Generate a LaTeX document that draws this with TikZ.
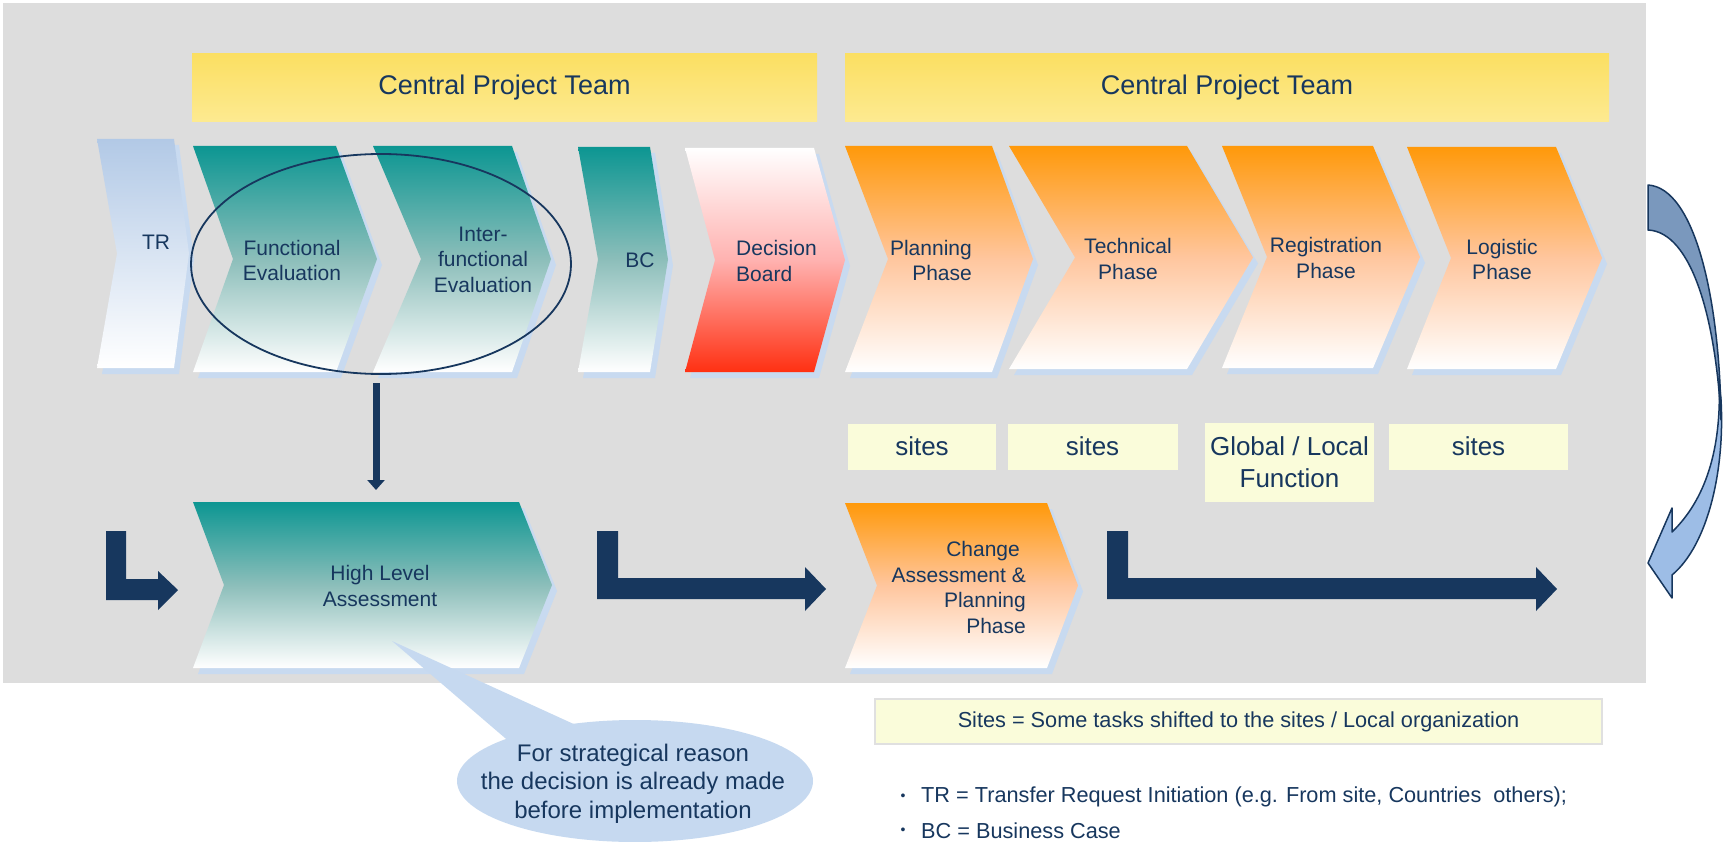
\documentclass[tikz,border=0pt]{standalone}
\usepackage{fontspec}
\setmainfont{Liberation Sans}
\usetikzlibrary{arrows.meta,shapes.geometric}
\definecolor{navy}{RGB}{23,55,94}
\definecolor{bgc}{RGB}{221,221,221}
\definecolor{shad}{RGB}{200,218,240}
\definecolor{tealc}{RGB}{12,150,146}
\definecolor{tealm}{RGB}{140,190,186}
\definecolor{orng}{RGB}{255,153,10}
\definecolor{peach}{RGB}{255,198,158}
\definecolor{redc}{RGB}{255,48,18}
\definecolor{pinkc}{RGB}{255,178,176}
\definecolor{trblue}{RGB}{178,201,230}
\definecolor{ylwtop}{RGB}{251,223,98}
\definecolor{ylwbot}{RGB}{253,234,145}
\definecolor{paley}{RGB}{250,252,218}
\definecolor{calloutc}{RGB}{198,217,240}
\definecolor{arrdark}{RGB}{122,152,189}
\definecolor{arrlight}{RGB}{157,189,230}
\newcommand{\chevshape}[7]{%
  \fill[shad,shift={(5,6)}] (#2,#6) -- (#3,#6) -- (#4,{(#6+#7)/2}) -- (#3,#7) -- (#2,#7) -- (#5,{(#6+#7)/2}) -- cycle;
  \path[#1] (#2,#6) -- (#3,#6) -- (#4,{(#6+#7)/2}) -- (#3,#7) -- (#2,#7) -- (#5,{(#6+#7)/2}) -- cycle;
}
\tikzset{
  trfill/.style={top color=trblue,bottom color=white},
  tealfill/.style={top color=tealc,bottom color=white,middle color=tealm},
  orngfill/.style={top color=orng,bottom color=white,middle color=peach},
  redfill/.style={top color=white,bottom color=redc,middle color=pinkc},
  lbl/.style={text=navy,font=\fontsize{21}{25.5}\selectfont,align=center,inner sep=0pt},
  hdr/.style={top color=ylwtop,bottom color=ylwbot,text=navy,font=\fontsize{27}{32}\selectfont,inner sep=0pt},
  sitebox/.style={fill=paley,text=navy,font=\fontsize{26}{32}\selectfont,align=center,inner sep=0pt},
  larrow/.style={fill=navy},
  smalltxt/.style={text=navy,font=\fontsize{21.7}{26}\selectfont,inner sep=0pt},
}
\begin{document}
\begin{tikzpicture}[x=1pt,y=-1pt]
\useasboundingbox (0,0) rectangle (1723,842);
\fill[white] (0,0) rectangle (1723,842);
\fill[bgc] (3,3) rectangle (1646,683);
% headers
\node[hdr,minimum width=625pt,minimum height=68pt] (hdr1) at (504.5,88) {Central Project Team};
\node[hdr,minimum width=764pt,minimum height=68pt] (hdr2) at (1227,88) {Central Project Team};
% top chevrons
\chevshape{trfill}{97}{174}{189}{117}{139}{368}
\chevshape{tealfill}{193}{336}{377}{233}{146}{372}
\chevshape{tealfill}{373}{512}{551}{421}{146}{372}
\chevshape{tealfill}{578}{650}{668}{598}{147}{372}
\chevshape{redfill}{685}{814}{845}{715}{148}{372}
\chevshape{orngfill}{845}{992}{1033}{888}{146}{372}
\chevshape{orngfill}{1009}{1187}{1253}{1075}{146}{369}
\chevshape{orngfill}{1222}{1373}{1420}{1267}{146}{368}
\chevshape{orngfill}{1407}{1556}{1602}{1451}{147}{369}
% bottom chevrons
\chevshape{tealfill}{193}{519}{552}{224}{502}{668}
\chevshape{orngfill}{845}{1047}{1078}{877}{503}{668}
% labels
\node[lbl] (tr) at (156,242) {TR};
\node[lbl] (fe) at (292,260.5) {Functional\\Evaluation};
\node[lbl] (ie) at (483,259.5) {Inter-\\functional\\Evaluation};
\node[lbl] (bc) at (640,260) {BC};
\node[lbl,align=left,anchor=west] (db) at (736,261) {Decision\\Board};
\node[lbl,align=right,anchor=east] (pp) at (972,260.5) {Planning\\Phase};
\node[lbl] (tp) at (1128,259) {Technical\\Phase};
\node[lbl] (rp) at (1326,258) {Registration\\Phase};
\node[lbl] (lp) at (1502,259.5) {Logistic\\Phase};
\node[lbl] (hla) at (380,586) {High Level\\Assessment};
\node[lbl,align=right,anchor=east] (cap) at (1026,587.5) {Change\hspace*{6pt}\\Assessment \&\hspace*{6pt}\\Planning\\Phase};
% ellipse ring
\node[draw=navy,line width=1.8pt,ellipse,minimum width=380pt,minimum height=220pt,inner sep=0pt] (ring) at (381,264) {};
\coordinate (dn1) at (376,383);
\coordinate (dn2) at (376,490);
\draw[navy,line width=7pt,-{Triangle[width=17pt,length=10pt]}] (dn1) -- (dn2);
% sites boxes
\node[sitebox,minimum width=148pt,minimum height=46pt] (s1) at (922,446.5) {sites};
\node[sitebox,minimum width=170pt,minimum height=46pt] (s2) at (1092.5,446.5) {sites};
\node[sitebox,minimum width=169pt,minimum height=79pt,text depth=0pt] (s3) at (1289.5,462.5) {Global / Local\\Function};
\node[sitebox,minimum width=179pt,minimum height=46pt] (s4) at (1478.5,446.5) {sites};
% L arrows
\fill[larrow] (106,531) -- (126,531) -- (126,579) -- (158,579) -- (158,571) -- (178,590) -- (158,610) -- (158,600) -- (106,600) -- cycle;
\fill[larrow] (597,531) -- (618,531) -- (618,578) -- (805,578) -- (805,567) -- (826,589) -- (805,611) -- (805,599) -- (597,599) -- cycle;
\fill[larrow] (1107,531) -- (1128,531) -- (1128,578) -- (1536,578) -- (1536,567) -- (1557,589) -- (1536,611) -- (1536,599) -- (1107,599) -- cycle;
% curved arrow
\filldraw[fill=arrlight,draw=navy,line width=1.5pt,line join=round]
  (1719,380) .. controls (1722,450) and (1705,500) .. (1672,532) -- (1672,508) -- (1648,563) -- (1672,598) -- (1672,575) .. controls (1708,545) and (1725,470) .. (1721,400) -- cycle;
\filldraw[fill=arrdark,draw=navy,line width=1.5pt,line join=round]
  (1648,185) .. controls (1695,188) and (1720,300) .. (1721,420) .. controls (1716,320) and (1692,232) .. (1648,230) -- cycle;
% callout
\coordinate (ptip) at (392,641);
\node[ellipse,fill=calloutc,minimum width=356pt,minimum height=122pt,inner sep=0pt] (note) at (635,781) {};
\fill[calloutc] (ptip) -- (578,726) -- (512,744) -- cycle;
\node[text=navy,font=\fontsize{24}{28.5}\selectfont,align=center,inner sep=0pt] (notetxt) at (633,783.5) {For strategical reason\\the decision is already made\\before implementation};
% legend
\node[fill=paley,draw=black!12,line width=1.5pt,minimum width=727pt,minimum height=45pt,inner sep=0pt] (legbox) at (1238.5,721.5) {};
\node[smalltxt] (legtxt) at (legbox.center) {Sites = Some tasks shifted to the sites / Local organization};
\node[smalltxt,font=\fontsize{14}{16}\selectfont] (b1) at (903,797) {•};
\node[smalltxt,anchor=west] (t1) at (921,797) {TR = Transfer Request Initiation (e.g. From site, Countries\ \ others);};
\node[smalltxt,font=\fontsize{14}{16}\selectfont] (b2) at (903,831) {•};
\node[smalltxt,anchor=west] (t2) at (921,831) {BC = Business Case};
\end{tikzpicture}
\end{document}
